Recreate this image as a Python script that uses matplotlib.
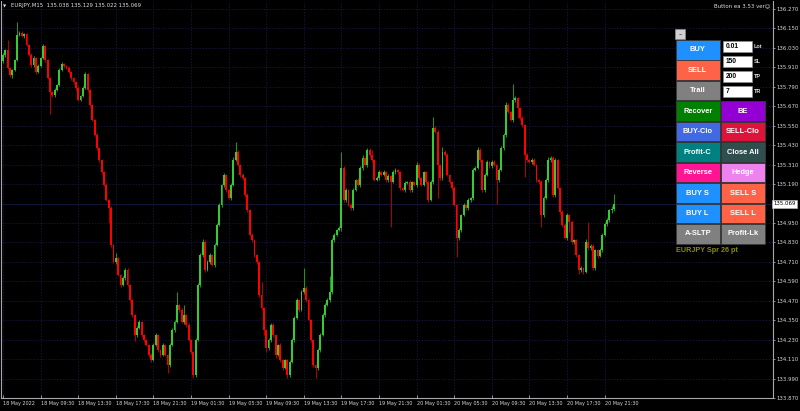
import numpy as np
import matplotlib
matplotlib.use("Agg")
import matplotlib.pyplot as plt
from matplotlib.patches import Rectangle

# ---------------- data ----------------
symbol = "EURJPY"
timeframe = "M15"
ea_title = "Button ea 3.53 ver\u263a"
spread_pts = 26

first_open = 135.950
closes = [
    135.986, 136.017, 135.906, 135.863, 135.894, 135.955, 136.110, 136.122, 136.103, 136.116,
    136.048, 135.986, 135.925, 135.968, 135.881, 135.918, 135.968, 136.042, 135.955, 135.844,
    135.758, 135.739, 135.770, 135.801, 135.894, 135.931, 135.918, 135.906, 135.881, 135.844,
    135.820, 135.783, 135.709, 135.733, 135.783, 135.869, 135.770, 135.678, 135.585, 135.493,
    135.413, 135.339, 135.264, 135.184, 135.092, 135.042, 134.814, 134.709, 134.734, 134.629,
    134.567, 134.611, 134.660, 134.567, 134.475, 134.382, 134.259, 134.302, 134.339, 134.259,
    134.228, 134.197, 134.136, 134.105, 134.197, 134.259, 134.166, 134.136, 134.197, 134.136,
    134.074, 134.197, 134.290, 134.339, 134.444, 134.413, 134.339, 134.382, 134.321, 134.228,
    134.154, 134.012, 134.228, 134.567, 134.752, 134.833, 134.660, 134.709, 134.752, 134.691,
    134.814, 134.938, 135.061, 135.184, 135.246, 135.153, 135.104, 135.184, 135.339, 135.388,
    135.308, 135.246, 135.227, 135.123, 135.030, 134.876, 134.845, 134.752, 134.709, 134.506,
    134.425, 134.290, 134.179, 134.228, 134.321, 134.259, 134.136, 134.197, 134.105, 134.055,
    134.105, 134.012, 134.092, 134.228, 134.364, 134.475, 134.413, 134.524, 134.549, 134.475,
    134.351, 134.228, 134.074, 134.055, 134.166, 134.259, 134.382, 134.444, 134.475, 134.524,
    134.845, 134.876, 134.907, 134.919, 135.289, 135.092, 135.153, 135.061, 135.042, 135.153,
    135.215, 135.184, 135.289, 135.351, 135.308, 135.400, 135.369, 135.339, 135.215, 135.227,
    135.264, 135.246, 135.264, 135.215, 135.240, 135.203, 135.264, 135.277, 135.264, 135.166,
    135.153, 135.197, 135.203, 135.153, 135.203, 135.184, 135.308, 135.227, 135.184, 135.264,
    135.203, 135.092, 135.203, 135.536, 135.511, 135.308, 135.227, 135.388, 135.369, 135.246,
    135.203, 135.166, 135.061, 134.857, 134.907, 134.999, 135.061, 135.042, 135.092, 135.104,
    135.277, 135.289, 135.400, 135.339, 135.153, 135.246, 135.326, 135.301, 135.326, 135.308,
    135.215, 135.277, 135.413, 135.493, 135.678, 135.635, 135.585, 135.709, 135.721, 135.659,
    135.598, 135.554, 135.369, 135.339, 135.326, 135.339, 135.308, 135.215, 135.203, 134.999,
    135.104, 135.215, 135.339, 135.351, 135.123, 135.339, 135.166, 135.018, 134.938, 134.857,
    134.999, 134.956, 134.833, 134.845, 134.752, 134.660, 134.672, 134.648, 134.833, 134.796,
    134.808, 134.672, 134.783, 134.746, 134.783, 134.876, 134.944, 134.968, 135.030, 135.038,
    135.069,
]
# wick lengths above / below the body, in points (0.001)
wick_up = [
    10, 8, 62, 6, 5, 9, 80, 12, 10, 8, 6, 5, 10, 9, 6, 12, 8, 15, 7, 5,
    6, 8, 10, 6, 12, 9, 8, 6, 10, 5, 7, 6, 9, 8, 10, 14, 6, 8, 5, 7,
    9, 6, 8, 5, 10, 7, 12, 8, 30, 6, 8, 12, 9, 10, 6, 8, 7, 12, 10, 6,
    8, 5, 7, 10, 12, 9, 6, 8, 10, 7, 6, 12, 9, 10, 80, 8, 12, 60, 7, 9,
    8, 6, 15, 10, 12, 20, 9, 12, 10, 8, 14, 10, 12, 9, 10, 8, 6, 12, 15, 62,
    10, 8, 12, 7, 9, 6, 10, 8, 7, 9, 80, 8, 6, 10, 12, 10, 8, 9, 10, 6,
    8, 7, 10, 12, 9, 14, 8, 10, 123, 9, 8, 6, 7, 8, 12, 10, 15, 12, 9, 100,
    12, 10, 8, 10, 99, 12, 14, 9, 10, 12, 8, 10, 14, 20, 8, 15, 10, 30, 8, 10,
    12, 8, 10, 6, 9, 8, 10, 12, 8, 6, 7, 9, 8, 10, 6, 8, 15, 10, 6, 9,
    8, 6, 14, 68, 10, 12, 8, 30, 10, 12, 6, 8, 10, 7, 12, 9, 10, 8, 12, 9,
    15, 12, 20, 10, 8, 12, 10, 9, 12, 10, 8, 15, 12, 10, 20, 12, 8, 98, 10, 8,
    6, 9, 8, 10, 7, 12, 10, 8, 6, 9, 12, 10, 20, 15, 10, 12, 8, 7, 9, 10,
    12, 8, 10, 9, 7, 6, 10, 8, 15, 123, 12, 10, 8, 9, 12, 15, 10, 12, 8, 15,
    60,
]
wick_dn = [
    12, 15, 8, 10, 20, 9, 6, 8, 7, 10, 9, 8, 12, 15, 10, 8, 6, 9, 12, 8,
    136, 10, 12, 8, 6, 9, 10, 8, 7, 12, 10, 15, 8, 9, 7, 6, 10, 12, 9, 8,
    10, 12, 9, 8, 7, 92, 10, 9, 12, 8, 10, 9, 12, 8, 10, 12, 40, 10, 8, 12,
    10, 9, 12, 10, 8, 9, 12, 10, 8, 9, 49, 10, 8, 12, 6, 10, 8, 12, 10, 9,
    12, 18, 10, 8, 12, 9, 10, 8, 12, 9, 10, 8, 6, 12, 10, 9, 8, 10, 7, 9,
    8, 10, 9, 12, 10, 9, 12, 10, 15, 10, 12, 30, 25, 12, 10, 12, 20, 8, 10, 12,
    9, 18, 10, 9, 12, 8, 10, 9, 12, 10, 9, 12, 10, 60, 12, 10, 9, 12, 8, 10,
    12, 10, 9, 8, 20, 12, 10, 9, 12, 10, 8, 9, 12, 10, 8, 12, 9, 10, 8, 7,
    10, 8, 9, 12, 10, 278, 8, 9, 10, 12, 8, 10, 9, 12, 10, 8, 10, 12, 9, 8,
    10, 12, 8, 10, 9, 204, 12, 10, 8, 9, 12, 10, 9, 117, 12, 10, 8, 9, 10, 12,
    10, 9, 8, 12, 15, 10, 9, 12, 10, 8, 148, 10, 9, 12, 10, 9, 8, 10, 12, 62,
    10, 12, 135, 10, 9, 12, 8, 10, 15, 74, 10, 9, 12, 10, 15, 10, 9, 12, 10, 8,
    10, 60, 12, 10, 9, 25, 12, 10, 9, 12, 10, 15, 10, 12, 9, 10, 8, 10, 12, 16,
    16,
]
time_labels = ["18 May 2022", "18 May 09:30", "18 May 13:30", "18 May 17:30", "18 May 21:30",
               "19 May 01:30", "19 May 05:30", "19 May 09:30", "19 May 13:30", "19 May 17:30",
               "19 May 21:30", "20 May 01:30", "20 May 05:30", "20 May 09:30", "20 May 13:30",
               "20 May 17:30", "20 May 21:30"]
bars_per_label = 16
price_ticks = [136.270, 136.150, 136.030, 135.910, 135.790, 135.670, 135.550, 135.430,
               135.310, 135.190, 134.950, 134.830, 134.710, 134.590, 134.470, 134.350,
               134.230, 134.110, 133.990, 133.870]

left_buttons = ["BUY", "SELL", "Trail", "Recover", "BUY-Clo", "Profit-C", "Reverse", "BUY S", "BUY L", "A-SLTP"]
left_colors = ["#1e90ff", "#ff6347", "#808080", "#008000", "#4169e1", "#008080", "#ff1493",
               "#1e90ff", "#1e90ff", "#808080"]
right_buttons = [None, None, None, "BE", "SELL-Clo", "Close All", "Hedge", "SELL S", "SELL L", "Profit-Lk"]
right_colors = [None, None, None, "#9400d3", "#dc143c", "#2f4f4f", "#ee82ee", "#ff6347",
                "#ff6347", "#808080"]
input_values = ["0.01", "150", "200", "7"]
input_labels = ["Lot", "SL", "TP", "TR"]

# ---------------- derived OHLC ----------------
c = np.array(closes)
o = np.concatenate([[first_open], c[:-1]])
h = np.maximum(o, c) + np.array(wick_up) / 1000.0
l = np.minimum(o, c) - np.array(wick_dn) / 1000.0
idx = np.arange(len(c))
bull = c >= o

W, H = 800, 411
fig = plt.figure(figsize=(W / 100, H / 100), dpi=100, facecolor="black")
ax = fig.add_axes([1 / W, 13 / H, 772 / W, 397 / H])
ax.set_facecolor("black")
ax.set_xlim(-2 / 2.35, (773 - 3) / 2.35)
ax.set_ylim(133.870, 133.870 + 397 / 162.08)

gridc = "#141438"
ax.set_xticks(idx[::bars_per_label][:len(time_labels)])
ax.set_xticklabels(time_labels)
ax.set_yticks(price_ticks)
ax.set_yticklabels([f"{p:.3f}" for p in price_ticks])
ax.yaxis.tick_right()
ax.grid(True, color=gridc, linestyle=(0, (1.5, 1.5)), linewidth=0.7, zorder=0)
ax.set_axisbelow(True)
ax.spines["top"].set_visible(False)
for s in ["left", "right", "bottom"]:
    ax.spines[s].set_color("#a8a8a8")
    ax.spines[s].set_linewidth(0.8)
ax.tick_params(axis="x", direction="in", length=2.5, width=0.6, color="#a8a8a8",
               labelsize=3.55, labelcolor="#d8d8d8", pad=2.5)
ax.tick_params(axis="y", direction="out", length=1.6, width=0.6, color="#a8a8a8",
               labelsize=3.9, labelcolor="#d8d8d8", pad=1.2)
for lab in ax.get_xticklabels():
    lab.set_ha("left")

# bid line
ax.axhline(c[-1], color="#181842", linewidth=0.6, zorder=1)

wick_cols = np.where(bull, "#1f9a1f", "#b80000")
body_cols = np.where(bull, "#33cc33", "#ff0000")
ax.vlines(idx, l, h, colors=wick_cols, linewidth=0.7, zorder=2)
heights = c - o
heights = np.where(np.abs(heights) < 0.002, np.where(bull, 0.002, -0.002), heights)
ax.bar(idx, heights, bottom=o, width=0.78, color=body_cols, linewidth=0, zorder=3)

ax.text(1.0, c[-1], f"{c[-1]:.3f}", transform=ax.get_yaxis_transform(), ha="left", va="center",
        fontsize=3.9, color="black", clip_on=False, zorder=10,
        bbox=dict(facecolor="white", edgecolor="#c0c0c0", boxstyle="square,pad=0.25", linewidth=0.4))

# ---------------- overlay (pixel coordinates) ----------------
ov = fig.add_axes([0, 0, 1, 1])
ov.set_xlim(0, W)
ov.set_ylim(H, 0)
ov.axis("off")
ov.patch.set_alpha(0)

ov.text(5, 6, "\u25bc", fontsize=3.0, color="#e0e0e0", ha="center", va="center")
ov.text(11, 6, f"{symbol},{timeframe}  {o[-1]:.3f} {h[-1]:.3f} {l[-1]:.3f} {c[-1]:.3f}",
        fontsize=3.9, color="#e0e0e0", ha="left", va="center")
ov.text(770, 6, ea_title, fontsize=3.9, color="#e0e0e0", ha="right", va="center")

bfont = dict(family=["Liberation Sans", "DejaVu Sans"], fontweight="bold", fontsize=5.4)

# minimise button
ov.add_patch(Rectangle((675, 29.5), 10, 10, facecolor="#d0d0d0", edgecolor="#909090", linewidth=0.5))
ov.text(680, 34.5, "\u2013", ha="center", va="center", fontsize=4.5, color="#505050", fontweight="bold")

row_top = 40.0
row_h = 20.45
bw = 43.5
lx, rx = 676.0, 721.0
for i, (name, col) in enumerate(zip(left_buttons, left_colors)):
    y0 = row_top + i * row_h
    ov.add_patch(Rectangle((lx, y0), bw, row_h - 0.9, facecolor=col, edgecolor="#3a3a3a", linewidth=0.6))
    ov.text(lx + bw / 2, y0 + row_h / 2 - 0.3, name, ha="center", va="center", color="white", **bfont)
for i, (name, col) in enumerate(zip(right_buttons, right_colors)):
    if name is None:
        continue
    y0 = row_top + i * row_h
    ov.add_patch(Rectangle((rx, y0), bw, row_h - 0.9, facecolor=col, edgecolor="#3a3a3a", linewidth=0.6))
    ov.text(rx + bw / 2, y0 + row_h / 2 - 0.3, name, ha="center", va="center", color="white", **bfont)

for i, (val, lab) in enumerate(zip(input_values, input_labels)):
    y0 = 41 + i * 15
    ov.add_patch(Rectangle((723, y0), 29, 11, facecolor="white", edgecolor="#909090", linewidth=0.5))
    ov.text(725.5, y0 + 5.6, val, ha="left", va="center", color="black",
            family=["Liberation Sans", "DejaVu Sans"], fontweight="bold", fontsize=4.8)
    ov.text(754, y0 + 5.3, lab, ha="left", va="center", color="#d8d8d8",
            family=["Liberation Sans", "DejaVu Sans"], fontweight="bold", fontsize=4.0)

ov.text(676, 250, f"{symbol} Spr {spread_pts} pt", ha="left", va="center", color="#8c8c00",
        family=["Liberation Sans", "DejaVu Sans"], fontweight="bold", fontsize=5.2)

fig.savefig("out.png", dpi=100, facecolor="black")
